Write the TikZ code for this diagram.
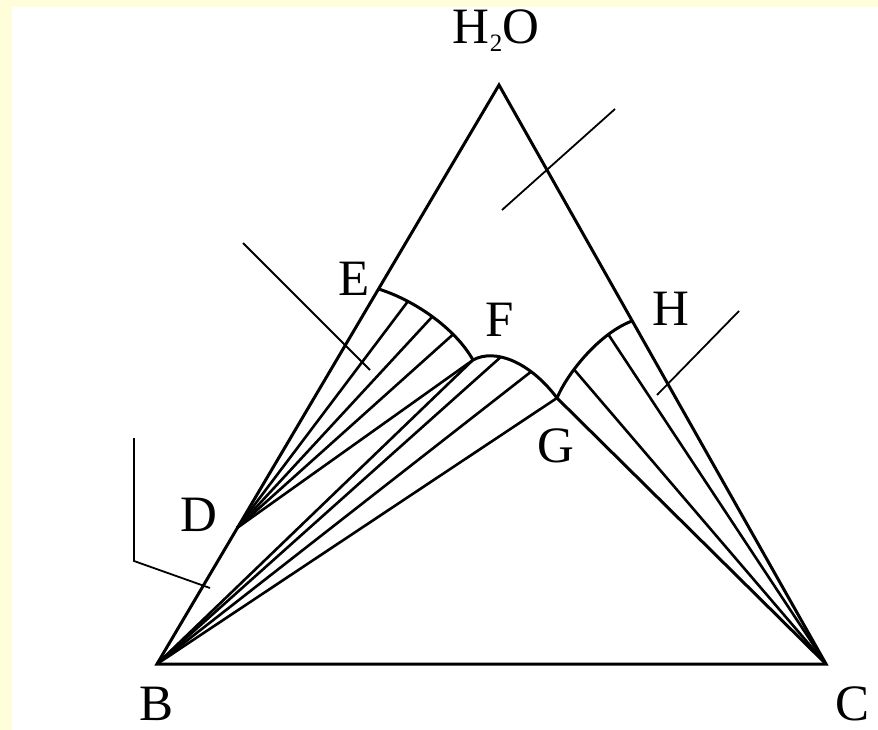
\documentclass[tikz,border=0pt]{standalone}
\usepackage{fontspec}
\setmainfont{Liberation Serif}
\definecolor{bgyellow}{RGB}{255,253,218}
\begin{document}
\begin{tikzpicture}[x=1pt,y=-1pt,
  main/.style={line width=3pt, line join=miter},
  tie/.style={line width=2.6pt},
  leader/.style={line width=1.8pt},
  lbl/.style={inner sep=0pt, font=\fontsize{51}{51}\selectfont}]
\fill[bgyellow] (0,0) rectangle (878,730);
\fill[white] (12,7) rectangle (878,730);
\useasboundingbox (0,0) rectangle (878,730);

\coordinate (A) at (499,85);
\coordinate (B) at (157,664);
\coordinate (C) at (826,664);
\coordinate (D) at (237,528);
\coordinate (E) at (378.5,289);
\coordinate (H) at (632,321);
\coordinate (F) at (473,360);
\coordinate (G) at (557,398);

% triangle
\draw[main] (B) -- (A) -- (C) -- cycle;

% boundary curves
\draw[main] (E) .. controls (414,300) and (455,328) .. (F)
  coordinate[pos=0.27] (e1) coordinate[pos=0.5] (e2) coordinate[pos=0.72] (e3);
\draw[main] (F) .. controls (495,348) and (530,362) .. (G)
  coordinate[pos=0.36] (g1) coordinate[pos=0.7] (g2);
\draw[main] (G) .. controls (568,372) and (600,333) .. (H)
  coordinate[pos=0.33] (h1) coordinate[pos=0.75] (h2);

% tie lines from D
\draw[tie] (D) -- (e1);
\draw[tie] (D) -- (e2);
\draw[tie] (D) -- (e3);
\draw[tie] (D) -- (F);
% tie lines from B
\draw[tie] (B) -- (F);
\draw[tie] (B) -- (g1);
\draw[tie] (B) -- (g2);
\draw[tie] (B) -- (G);
% tie lines from C
\draw[main] (C) -- (G);
\draw[tie] (C) -- (h1);
\draw[tie] (C) -- (h2);

% leader lines
\coordinate (l1a) at (502,210);
\coordinate (l1b) at (615,109);
\coordinate (l2a) at (243,243);
\coordinate (l2b) at (370,370);
\coordinate (l3a) at (657,395);
\coordinate (l3b) at (739,311);
\coordinate (l4a) at (134,438);
\coordinate (l4b) at (134,561);
\coordinate (l4c) at (210,588);
\draw[leader] (l1a) -- (l1b);
\draw[leader] (l2a) -- (l2b);
\draw[leader] (l3a) -- (l3b);
\draw[leader] (l4a) -- (l4b) -- (l4c);

% labels
\node[lbl, anchor=base] (tH2O) at (496,44) {H\raisebox{-8pt}{\fontsize{25}{25}\selectfont 2}O};
\node[lbl] (tE) at (354,279) {E};
\node[lbl] (tF) at (500,320) {F};
\node[lbl] (tG) at (556,446) {G};
\node[lbl] (tH) at (671,309) {H};
\node[lbl] (tD) at (199,515) {D};
\node[lbl] (tB) at (157,704) {B};
\node[lbl] (tC) at (852,704) {C};
\end{tikzpicture}
\end{document}
